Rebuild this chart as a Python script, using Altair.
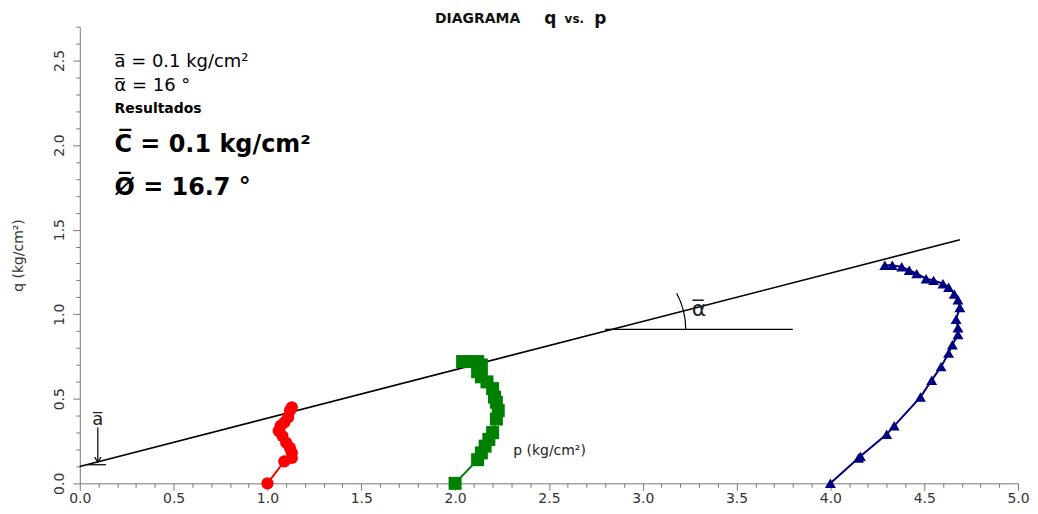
import altair as alt
import pandas as pd

# ---------------- data ----------------
red_p = [1.00, 1.09, 1.13, 1.13, 1.12, 1.10, 1.08, 1.06, 1.07, 1.09, 1.11, 1.12, 1.13]
red_q = [0.00, 0.13, 0.15, 0.18, 0.21, 0.24, 0.28, 0.31, 0.34, 0.36, 0.39, 0.43, 0.45]

green_p = [2.00, 2.12, 2.14, 2.16, 2.18, 2.20, 2.22, 2.23, 2.22, 2.21, 2.20, 2.17, 2.14, 2.12, 2.14, 2.12, 2.08, 2.04]
green_q = [0.00, 0.14, 0.18, 0.22, 0.26, 0.30, 0.38, 0.43, 0.48, 0.51, 0.56, 0.60, 0.63, 0.66, 0.70, 0.72, 0.72, 0.72]

blue_p = [4.00, 4.15, 4.16, 4.30, 4.34, 4.48, 4.54, 4.59, 4.63, 4.65, 4.68, 4.68, 4.67, 4.69,
          4.68, 4.66, 4.63, 4.60, 4.55, 4.51, 4.46, 4.42, 4.38, 4.33, 4.29]
blue_q = [0.00, 0.15, 0.16, 0.29, 0.34, 0.51, 0.61, 0.69, 0.77, 0.82, 0.88, 0.92, 0.97, 1.04,
          1.085, 1.12, 1.16, 1.18, 1.20, 1.21, 1.24, 1.26, 1.28, 1.29, 1.29]

# Kf failure line (a = 0.1, alpha = 16 deg)
kf_p = [0.0, 4.69]
kf_q = [0.10, 1.44]

# horizontal reference line for the angle
hz_p = [2.80, 3.80]
hz_q = [0.91, 0.91]
arc_center_p = [2.82]
arc_center_q = [0.91]

# "a" marker
a_tick_p = [0.04, 0.14]
a_tick_q = [0.11, 0.11]
a_arrow_p = [0.096]
a_arrow_q_top = [0.33]
a_arrow_q_tip = [0.125]

x_ticks = [round(0.1 * i, 1) for i in range(51)]
y_ticks = [round(0.1 * i, 1) for i in range(28)]

FONT = "DejaVu Sans"
MAJOR = "abs(datum.value*2 - round(datum.value*2)) < 0.01"
LABEL_EXPR = f"{MAJOR} ? format(datum.value, '.1f') : ''"

xs = alt.Scale(domain=[0, 5], nice=False, zero=False)
ys = alt.Scale(domain=[0, 2.7], nice=False, zero=False)

x_axis = alt.Axis(values=x_ticks, labelExpr=LABEL_EXPR, title=None, grid=False,
                  tickSize={"condition": {"test": MAJOR, "value": 7}, "value": 4},
                  labelFontSize=14, labelFont=FONT, labelColor="#333333",
                  domainColor="#777777", tickColor="#777777", labelPadding=1,
                  labelFlush=False, labelOverlap=False)
y_axis = alt.Axis(values=y_ticks, labelExpr=LABEL_EXPR, title="q  (kg/cm²)", grid=False,
                  tickSize={"condition": {"test": MAJOR, "value": 7}, "value": 4},
                  labelFontSize=14, labelFont=FONT, labelColor="#333333",
                  labelAngle=270, labelAlign="center", labelBaseline="bottom",
                  domainColor="#777777", tickColor="#777777", labelPadding=6,
                  labelFlush=False, labelOverlap=False,
                  titleFont=FONT, titleFontSize=14, titleFontWeight="normal",
                  titleColor="#333333", titlePadding=27)


def X(field="p"):
    return alt.X(f"{field}:Q", scale=xs, axis=x_axis)


def Y(field="q"):
    return alt.Y(f"{field}:Q", scale=ys, axis=y_axis)


def series(ps, qs, color, shape, size):
    df = pd.DataFrame({"p": ps, "q": qs, "i": list(range(len(ps)))})
    base = alt.Chart(df)
    line = base.mark_line(color=color, strokeWidth=2).encode(x=X(), y=Y(), order="i:Q")
    pts = base.mark_point(shape=shape, filled=True, color=color, size=size, opacity=1).encode(x=X(), y=Y())
    return line + pts


kf = alt.Chart(pd.DataFrame({"p": kf_p, "q": kf_q})).mark_line(
    color="black", strokeWidth=1.6).encode(x=X(), y=Y())

hz = alt.Chart(pd.DataFrame({"p": hz_p, "q": hz_q})).mark_line(
    color="black", strokeWidth=1.2).encode(x=X(), y=Y())

arc = alt.Chart(pd.DataFrame({"p": arc_center_p, "q": arc_center_q})).mark_arc(
    radius=77, radius2=77, theta=1.08, theta2=1.5708, fillOpacity=0,
    stroke="black", strokeWidth=1.2).encode(x=X(), y=Y())

a_tick = alt.Chart(pd.DataFrame({"p": a_tick_p, "q": a_tick_q})).mark_line(
    color="black", strokeWidth=1.2).encode(x=X(), y=Y())
a_arrow = alt.Chart(pd.DataFrame({"p": a_arrow_p, "q": a_arrow_q_top, "q2": a_arrow_q_tip})).mark_rule(
    color="black", strokeWidth=1.2).encode(x=X(), y=Y(), y2="q2:Q")
a_head = alt.Chart(pd.DataFrame({"p": a_arrow_p, "q": a_arrow_q_tip})).mark_point(
    shape="M-1,-1.6L0,0L1,-1.6", filled=False, color="black", size=40, strokeWidth=1.2,
    opacity=1).encode(x=X(), y=Y())

# ---------------- text annotations ----------------
ann_text = ["a̅ = 0.1 kg/cm²", "α̅ = 16 °", "Resultados", "C̅ = 0.1 kg/cm²", "Ø̅ = 16.7 °"]
ann_p = [0.185, 0.185, 0.185, 0.185, 0.185]
ann_q = [2.49, 2.35, 2.215, 2.0, 1.745]
ann_size = [18, 18, 14, 24, 24]
ann_weight = ["normal", "normal", "bold", "bold", "bold"]

ann_layers = []
for t, p, q, s, w in zip(ann_text, ann_p, ann_q, ann_size, ann_weight):
    ann_layers.append(
        alt.Chart(pd.DataFrame({"p": [p], "q": [q], "t": [t]})).mark_text(
            align="left", baseline="middle", font=FONT, fontSize=s, fontWeight=w,
            color="black").encode(x=X(), y=Y(), text="t:N"))

small_text = ["a̅", "α̅", "p  (kg/cm²)"]
small_p = [0.096, 3.30, 2.31]
small_q = [0.375, 1.03, 0.19]
small_size = [18, 22, 14]
small_align = ["center", "center", "left"]
for t, p, q, s, a in zip(small_text, small_p, small_q, small_size, small_align):
    ann_layers.append(
        alt.Chart(pd.DataFrame({"p": [p], "q": [q], "t": [t]})).mark_text(
            align=a, baseline="middle", font=FONT, fontSize=s, color="#222222").encode(
            x=X(), y=Y(), text="t:N"))

# title pieces (placed above the plot area)
title_text = ["DIAGRAMA", "q", "vs.", "p"]
title_x = [399, 472, 496, 522]
title_size = [14, 17, 12, 17]
title_layers = []
for t, xv, s in zip(title_text, title_x, title_size):
    title_layers.append(
        alt.Chart(pd.DataFrame({"t": [t]})).mark_text(
            align="center", baseline="middle", font=FONT, fontSize=s,
            fontWeight="bold", color="#111111").encode(
            x=alt.value(xv), y=alt.value(-8), text="t:N"))

chart = alt.layer(
    kf, hz, arc, a_tick, a_arrow, a_head,
    series(red_p, red_q, "#ff0000", "circle", 150),
    series(green_p, green_q, "#008000", "square", 170),
    series(blue_p, blue_q, "#000080", "triangle-up", 120),
    *ann_layers, *title_layers,
).properties(
    width=941, height=458,
    autosize=alt.AutoSizeParams(type="none"),
    padding={"left": 72, "top": 18, "right": 12, "bottom": 28},
    background="white",
).configure_view(strokeWidth=0)

chart.save("out.html", embed_options={"renderer": "svg", "actions": False})
